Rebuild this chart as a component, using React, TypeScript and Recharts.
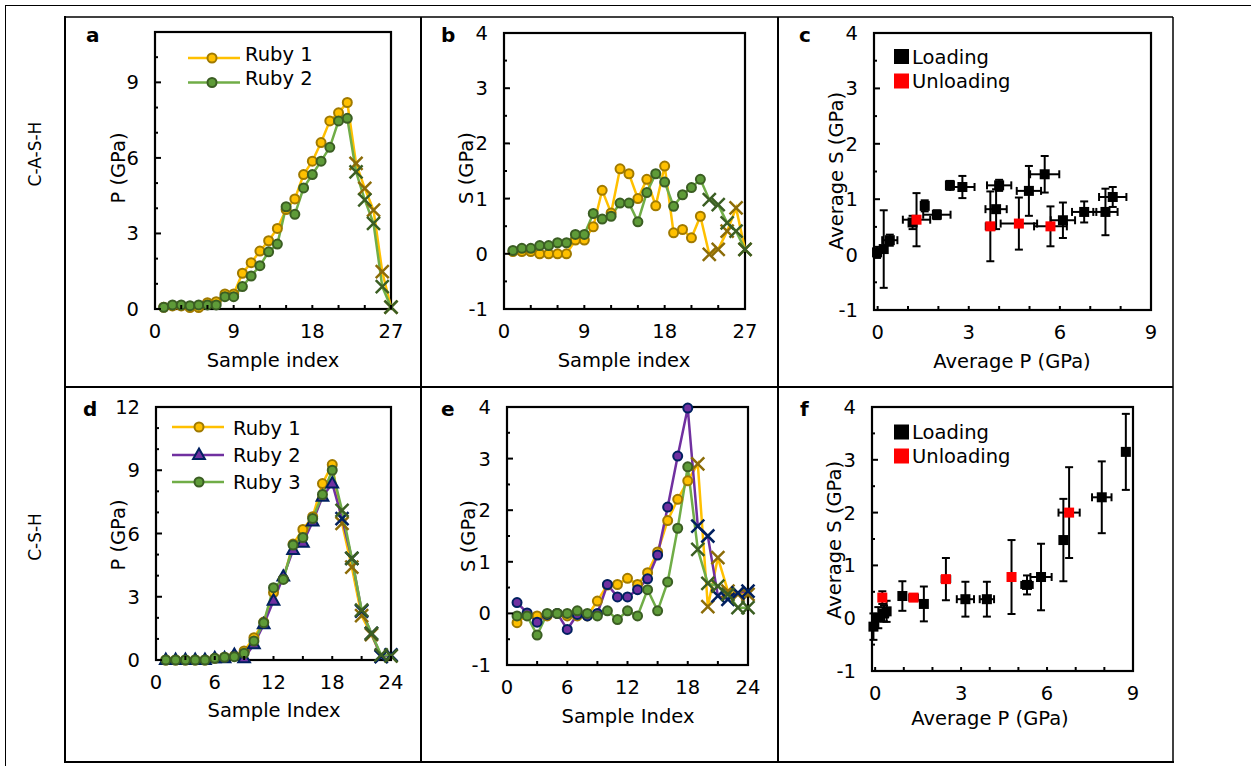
import { LineChart, Line, ScatterChart, Scatter, XAxis, YAxis, ErrorBar } from 'recharts';

const FONT = '"DejaVu Sans", Verdana, sans-serif';

// C-A-S-H, panels a and b (27 samples, unloading from sample 23)
const casSample = [1, 2, 3, 4, 5, 6, 7, 8, 9, 10, 11, 12, 13, 14, 15, 16, 17, 18, 19, 20, 21, 22, 23, 24, 25, 26, 27];
const casUnloadFrom = 23;
const casPRuby1 = [0.07, 0.12, 0.12, 0.06, 0.06, 0.25, 0.29, 0.6, 0.6, 1.42, 1.84, 2.3, 2.71, 3.2, 3.95, 4.37, 5.34, 5.87, 6.61, 7.47, 7.79, 8.2, 5.78, 4.79, 3.93, 1.48, 0.07];
const casPRuby2 = [0.07, 0.16, 0.16, 0.13, 0.16, 0.16, 0.16, 0.49, 0.49, 0.89, 1.31, 1.72, 2.27, 2.58, 4.06, 3.76, 4.81, 5.34, 5.87, 6.42, 7.47, 7.57, 5.45, 4.33, 3.4, 0.89, 0.07];
const casSRuby1 = [0.04, 0.04, 0.04, 0, 0, 0, 0, 0.25, 0.25, 0.49, 1.15, 0.74, 1.54, 1.45, 1.0, 1.35, 0.87, 1.59, 0.38, 0.44, 0.29, 0.68, -0.01, 0.08, 0.41, 0.83, 0.08];
const casSRuby2 = [0.06, 0.1, 0.1, 0.15, 0.15, 0.2, 0.2, 0.35, 0.35, 0.73, 0.63, 0.68, 0.92, 0.92, 0.58, 1.11, 1.45, 1.3, 0.86, 1.07, 1.2, 1.35, 0.98, 0.89, 0.56, 0.41, 0.08];

// C-S-H, panels d and e (24 samples, unloading from sample 19)
const cshSample = [1, 2, 3, 4, 5, 6, 7, 8, 9, 10, 11, 12, 13, 14, 15, 16, 17, 18, 19, 20, 21, 22, 23, 24];
const cshUnloadFrom = 19;
const cshPRuby1 = [0, 0, 0, 0, 0, 0.08, 0.13, 0.2, 0.43, 1.06, 1.8, 3.2, 3.85, 5.5, 6.19, 6.8, 8.37, 9.27, 6.48, 4.4, 2.1, 1.2, 0.18, 0.2];
const cshPRuby2 = [0, 0, 0, 0, 0, 0.08, 0.08, 0.24, 0.08, 0.74, 1.69, 2.81, 3.95, 5.21, 5.56, 6.56, 7.74, 8.37, 6.71, 4.82, 2.32, 1.26, 0.16, 0.24];
const cshPRuby3 = [0, 0, 0, 0, 0, 0.08, 0.13, 0.16, 0.32, 0.9, 1.77, 3.43, 3.82, 5.45, 5.81, 6.71, 7.85, 9.0, 7.1, 4.82, 2.37, 1.26, 0.24, 0.2];
const cshSRuby1 = [-0.18, -0.02, -0.05, -0.05, 0, -0.05, -0.05, -0.05, 0.24, 0.55, 0.56, 0.68, 0.56, 0.79, 1.19, 1.8, 2.21, 2.57, 2.9, 0.13, 1.08, 0.43, 0.37, 0.37];
const cshSRuby2 = [0.21, 0.01, -0.17, -0.02, 0, -0.31, -0.02, -0.05, 0, 0.56, 0.32, 0.32, 0.46, 0.67, 1.13, 2.06, 3.05, 3.98, 1.69, 1.5, 0.34, 0.27, 0.4, 0.43];
const cshSRuby3 = [-0.05, -0.05, -0.42, 0, 0, 0, 0.05, 0, -0.05, 0.05, -0.12, 0.05, -0.05, 0.46, 0.05, 0.61, 1.65, 2.84, 1.24, 0.58, 0.53, 0.37, 0.11, 0.11];

// panel c: average P / S with errors
const casLoadP = [-0.02, 0.2, 0.4, 1.15, 1.55, 1.95, 2.38, 2.79, 3.9, 4.0, 4.98, 5.5, 6.1, 6.8, 7.5, 7.74];
const casLoadS = [0.04, 0.1, 0.26, 0.58, 0.88, 0.72, 1.25, 1.22, 0.82, 1.25, 1.15, 1.45, 0.62, 0.77, 0.77, 1.04];
const casLoadPErr = [0.1, 0.1, 0.25, 0.1, 0.1, 0.45, 0.1, 0.4, 0.35, 0.4, 0.4, 0.48, 0.4, 0.4, 0.4, 0.45];
const casLoadSErr = [0.1, 0.7, 0.1, 0.12, 0.1, 0.08, 0.08, 0.2, 0.36, 0.1, 0.45, 0.33, 0.32, 0.19, 0.42, 0.18];
const casUnloadP = [1.28, 3.71, 4.65, 5.69];
const casUnloadS = [0.63, 0.51, 0.56, 0.51];
const casUnloadPErr = [0.45, 0.15, 0.6, 0.54];
const casUnloadSErr = [0.48, 0.63, 0.47, 0.36];

// panel f
const cshLoadP = [-0.06, 0.11, 0.31, 0.4, 0.95, 1.7, 3.15, 3.9, 5.3, 5.79, 6.57, 7.91, 8.75];
const cshLoadS = [-0.16, 0.01, 0.09, 0.13, 0.42, 0.27, 0.36, 0.36, 0.63, 0.78, 1.48, 2.29, 3.15];
const cshLoadPErr = [0.05, 0.1, 0.15, 0.1, 0.1, 0.1, 0.3, 0.25, 0.2, 0.37, 0.1, 0.34, 0.1];
const cshLoadSErr = [0.25, 0.2, 0.15, 0.2, 0.28, 0.33, 0.33, 0.33, 0.18, 0.63, 0.78, 0.68, 0.72];
const cshUnloadP = [0.25, 1.34, 2.47, 4.76, 6.77];
const cshUnloadS = [0.39, 0.39, 0.74, 0.78, 2.0];
const cshUnloadPErr = [0.1, 0.15, 0.15, 0.1, 0.37];
const cshUnloadSErr = [0.12, 0.05, 0.4, 0.7, 0.86];

// ticks and labels
const ticks27 = [0, 3, 6, 9, 12, 15, 18, 21, 24, 27];
const labels27 = [0, 9, 18, 27];
const ticks24 = [0, 3, 6, 9, 12, 15, 18, 21, 24];
const labels24 = [0, 6, 12, 18, 24];
const ticks9 = [0, 1, 2, 3, 4, 5, 6, 7, 8, 9];
const labels9 = [0, 3, 6, 9];
const ticksP11 = [0, 1, 2, 3, 4, 5, 6, 7, 8, 9, 10, 11];
const labelsP11 = [0, 3, 6, 9];
const ticksP12 = [0, 1, 2, 3, 4, 5, 6, 7, 8, 9, 10, 11, 12];
const labelsP12 = [0, 3, 6, 9, 12];
const ticksS = [-1, -0.5, 0, 0.5, 1, 1.5, 2, 2.5, 3, 3.5, 4];
const labelsS = [-1, 0, 1, 2, 3, 4];

const ORANGE = '#FFC000';
const ORANGE_EDGE = '#A07A00';
const ORANGE_X = '#8C6C08';
const GREEN = '#70AD47';
const GREEN_FILL = '#5E9B38';
const GREEN_EDGE = '#3B5E23';
const PURPLE = '#7030A0';
const NAVY = '#002060';

const casRows = casSample.map((sample, i) => ({
  sample, p1: casPRuby1[i], p2: casPRuby2[i], s1: casSRuby1[i], s2: casSRuby2[i],
}));
const cshRows = cshSample.map((sample, i) => ({
  sample, p1: cshPRuby1[i], p2: cshPRuby2[i], p3: cshPRuby3[i],
  s1: cshSRuby1[i], s2: cshSRuby2[i], s3: cshSRuby3[i],
}));
const errRows = (p: number[], s: number[], pe: number[], se: number[]) =>
  p.map((x, i) => ({ x, y: s[i], ex: pe[i], ey: se[i] }));

const xTick = (labels: number[]) => (props: any) => {
  const { x, y, payload } = props;
  const v = payload.value;
  return (
    <g>
      <line x1={x} y1={y} x2={x} y2={y - 4} stroke="#000" strokeWidth={2} />
      {labels.includes(v) && (
        <text x={x} y={y + 29} textAnchor="middle" fontSize={19.5} fontFamily={FONT} fill="#000">{v}</text>
      )}
    </g>
  );
};

const yTick = (labels: number[]) => (props: any) => {
  const { x, y, payload } = props;
  const v = payload.value;
  const major = labels.includes(v);
  return (
    <g>
      <line x1={x} y1={y} x2={x + (major ? 6 : 3)} y2={y} stroke="#000" strokeWidth={2} />
      {major && (
        <text x={x - 16} y={y + 7} textAnchor="end" fontSize={19.5} fontFamily={FONT} fill="#000">{v}</text>
      )}
    </g>
  );
};

const rubyDot = (shape: string, fill: string, edge: string, xColor: string, unloadFrom: number) => (props: any) => {
  const { cx, cy, payload, index } = props;
  const key = `dot-${index}`;
  if (cx == null || cy == null) return <g key={key} />;
  if (payload.sample >= unloadFrom) {
    const s = 6.5;
    return (
      <path key={key} d={`M${cx - s},${cy - s}L${cx + s},${cy + s}M${cx - s},${cy + s}L${cx + s},${cy - s}`}
        stroke={xColor} strokeWidth={2.5} fill="none" />
    );
  }
  if (shape === 'triangle') {
    const r = 6.5;
    return (
      <polygon key={key} points={`${cx},${cy - r} ${cx + r * 0.9},${cy + r * 0.6} ${cx - r * 0.9},${cy + r * 0.6}`}
        fill={fill} stroke={edge} strokeWidth={2} />
    );
  }
  return <circle key={key} cx={cx} cy={cy} r={4.5} fill={fill} stroke={edge} strokeWidth={2} />;
};

const square = (color: string) => (props: any) => (
  <rect x={props.cx - 5} y={props.cy - 5} width={10} height={10} fill={color} />
);

type Box = [number, number, number, number];

const boxA: Box = [155, 32, 391, 309];
const boxB: Box = [504, 33, 745, 309];
const boxC: Box = [874, 33, 1151, 310];
const boxD: Box = [156, 407, 391, 660];
const boxE: Box = [507, 407, 748, 665];
const boxF: Box = [872, 407, 1133, 671];

const place = (b: Box) => ({
  style: { position: 'absolute' as const, left: b[0] - 60, top: b[1] - 20 },
  width: b[2] - b[0] + 80,
  height: b[3] - b[1] + 80,
});
const margin = { top: 20, right: 20, left: 0, bottom: 0 };

const axes = (xTicks: number[], xLabels: number[], xDom: [number, number], yTicks: number[], yLabels: number[], yDom: [number, number], xKey: string, yKey?: string) => [
  <XAxis key="x" type="number" dataKey={xKey} domain={() => xDom} ticks={xTicks} interval={0}
    axisLine={false} tickLine={false} tickSize={0} tickMargin={0} height={60} tick={xTick(xLabels)} />,
  <YAxis key="y" type="number" dataKey={yKey} domain={() => yDom} ticks={yTicks} interval={0}
    axisLine={false} tickLine={false} tickSize={0} tickMargin={0} width={60} tick={yTick(yLabels)} />,
];

const rubyLine = (key: string, color: string, shape: string, fill: string, edge: string, xColor: string, unloadFrom: number) => (
  <Line key={key} type="linear" dataKey={key} stroke={color} strokeWidth={2.5}
    dot={rubyDot(shape, fill, edge, xColor, unloadFrom)} activeDot={false} isAnimationActive={false} />
);

const errScatter = (name: string, data: any[], color: string) => (
  <Scatter key={name} name={name} data={data} shape={square(color)} isAnimationActive={false}>
    <ErrorBar dataKey="ex" direction="x" width={4} stroke="#000" strokeWidth={2} />
    <ErrorBar dataKey="ey" direction="y" width={4} stroke="#000" strokeWidth={2} />
  </Scatter>
);

const T = (p: any) => <text fontFamily={FONT} fontSize={19.5} fill="#000" {...p} />;
const VT = ({ x, y, children, size = 19.5 }: any) => (
  <text x={x} y={y} transform={`rotate(-90 ${x} ${y})`} textAnchor="middle" dominantBaseline="central"
    fontFamily={FONT} fontSize={size} fill="#000">{children}</text>
);

const Background = () => (
  <svg width={1251} height={766} style={{ position: 'absolute', left: 0, top: 0 }}>
    <rect x={5.5} y={5.5} width={1300} height={800} fill="none" stroke="#000" strokeWidth={1} />
    <line x1={65} y1={17} x2={1173} y2={17} stroke="#000" strokeWidth={1.5} />
    <line x1={1173} y1={17} x2={1173} y2={762} stroke="#000" strokeWidth={1.5} />
    <line x1={65} y1={16} x2={65} y2={763} stroke="#000" strokeWidth={2} />
    <line x1={421} y1={17} x2={421} y2={763} stroke="#000" strokeWidth={2} />
    <line x1={778} y1={17} x2={778} y2={763} stroke="#000" strokeWidth={2} />
    <line x1={65} y1={387} x2={1173} y2={387} stroke="#000" strokeWidth={2} />
    <line x1={65} y1={762} x2={1174} y2={762} stroke="#000" strokeWidth={2} />
    {[boxA, boxB, boxC, boxD, boxE, boxF].map((b, i) => (
      <rect key={i} x={b[0]} y={b[1]} width={b[2] - b[0]} height={b[3] - b[1]} fill="none" stroke="#000" strokeWidth={2.2} />
    ))}

    <VT x={35} y={154} size={17}>C-A-S-H</VT>
    <VT x={35} y={537} size={17}>C-S-H</VT>

    <T x={86} y={42} fontWeight="bold" fontSize={20}>a</T>
    <T x={441} y={42} fontWeight="bold" fontSize={20}>b</T>
    <T x={799} y={42} fontWeight="bold" fontSize={20}>c</T>
    <T x={83} y={416} fontWeight="bold" fontSize={20}>d</T>
    <T x={441} y={416} fontWeight="bold" fontSize={20}>e</T>
    <T x={800} y={416} fontWeight="bold" fontSize={20}>f</T>

    <VT x={118} y={168}>P (GPa)</VT>
    <VT x={466} y={168}>S (GPa)</VT>
    <VT x={836} y={171}>Average S (GPa)</VT>
    <VT x={118} y={535}>P (GPa)</VT>
    <VT x={468} y={536}>S (GPa)</VT>
    <VT x={834} y={540}>Average S (GPa)</VT>

    <T x={273} y={367} textAnchor="middle">Sample index</T>
    <T x={624} y={367} textAnchor="middle">Sample index</T>
    <T x={1012} y={368} textAnchor="middle">Average P (GPa)</T>
    <T x={274} y={717} textAnchor="middle">Sample Index</T>
    <T x={628} y={723} textAnchor="middle">Sample Index</T>
    <T x={990} y={725} textAnchor="middle">Average P (GPa)</T>

    {/* legend a */}
    <line x1={188} y1={58} x2={240} y2={58} stroke={ORANGE} strokeWidth={2.5} />
    <circle cx={212} cy={58} r={4.5} fill={ORANGE} stroke={ORANGE_EDGE} strokeWidth={2} />
    <T x={245} y={61}>Ruby 1</T>
    <line x1={188} y1={82.5} x2={240} y2={82.5} stroke={GREEN} strokeWidth={2.5} />
    <circle cx={212} cy={82.5} r={4.5} fill={GREEN_FILL} stroke={GREEN_EDGE} strokeWidth={2} />
    <T x={245} y={85}>Ruby 2</T>

    {/* legend d */}
    <line x1={172} y1={427} x2={224} y2={427} stroke={ORANGE} strokeWidth={2.5} />
    <circle cx={199} cy={427} r={4.5} fill={ORANGE} stroke={ORANGE_EDGE} strokeWidth={2} />
    <T x={233} y={434.5}>Ruby 1</T>
    <line x1={172} y1={455} x2={224} y2={455} stroke={PURPLE} strokeWidth={2.5} />
    <polygon points="199,448.5 204.9,458.9 193.1,458.9" fill={PURPLE} stroke={NAVY} strokeWidth={2} />
    <T x={233} y={462}>Ruby 2</T>
    <line x1={172} y1={482} x2={224} y2={482} stroke={GREEN} strokeWidth={2.5} />
    <circle cx={199} cy={482} r={4.5} fill={GREEN_FILL} stroke={GREEN_EDGE} strokeWidth={2} />
    <T x={233} y={489}>Ruby 3</T>

    {/* legend c */}
    <rect x={894} y={49} width={15} height={15} fill="#000" />
    <T x={912} y={63.5}>Loading</T>
    <rect x={894} y={73.5} width={15} height={15} fill="#FF0000" />
    <T x={912} y={87.5}>Unloading</T>

    {/* legend f */}
    <rect x={894} y={424.5} width={15} height={15} fill="#000" />
    <T x={912} y={438.5}>Loading</T>
    <rect x={894} y={448.5} width={15} height={15} fill="#FF0000" />
    <T x={912} y={462.5}>Unloading</T>
  </svg>
);

export default function App() {
  const pa = place(boxA), pb = place(boxB), pc = place(boxC);
  const pd = place(boxD), pe = place(boxE), pf = place(boxF);
  return (
    <div style={{ position: 'absolute', left: 0, top: 0, width: 1251, height: 766, background: '#fff', overflow: 'hidden' }}>
      <Background />

      <div style={pa.style}>
        <LineChart width={pa.width} height={pa.height} data={casRows} margin={margin}>
          {axes(ticks27, labels27, [0, 27], ticksP11, labelsP11, [0, 11], 'sample')}
          {rubyLine('p1', ORANGE, 'circle', ORANGE, ORANGE_EDGE, ORANGE_X, casUnloadFrom)}
          {rubyLine('p2', GREEN, 'circle', GREEN_FILL, GREEN_EDGE, GREEN_EDGE, casUnloadFrom)}
        </LineChart>
      </div>

      <div style={pb.style}>
        <LineChart width={pb.width} height={pb.height} data={casRows} margin={margin}>
          {axes(ticks27, labels27, [0, 27], ticksS, labelsS, [-1, 4], 'sample')}
          {rubyLine('s1', ORANGE, 'circle', ORANGE, ORANGE_EDGE, ORANGE_X, casUnloadFrom)}
          {rubyLine('s2', GREEN, 'circle', GREEN_FILL, GREEN_EDGE, GREEN_EDGE, casUnloadFrom)}
        </LineChart>
      </div>

      <div style={pc.style}>
        <ScatterChart width={pc.width} height={pc.height} margin={margin}>
          {axes(ticks9, labels9, [0, 9], ticksS, labelsS, [-1, 4], 'x', 'y')}
          {errScatter('Loading', errRows(casLoadP, casLoadS, casLoadPErr, casLoadSErr), '#000')}
          {errScatter('Unloading', errRows(casUnloadP, casUnloadS, casUnloadPErr, casUnloadSErr), '#FF0000')}
        </ScatterChart>
      </div>

      <div style={pd.style}>
        <LineChart width={pd.width} height={pd.height} data={cshRows} margin={margin}>
          {axes(ticks24, labels24, [0, 24], ticksP12, labelsP12, [0, 12], 'sample')}
          {rubyLine('p1', ORANGE, 'circle', ORANGE, ORANGE_EDGE, ORANGE_X, cshUnloadFrom)}
          {rubyLine('p2', PURPLE, 'triangle', PURPLE, NAVY, NAVY, cshUnloadFrom)}
          {rubyLine('p3', GREEN, 'circle', GREEN_FILL, GREEN_EDGE, GREEN_EDGE, cshUnloadFrom)}
        </LineChart>
      </div>

      <div style={pe.style}>
        <LineChart width={pe.width} height={pe.height} data={cshRows} margin={margin}>
          {axes(ticks24, labels24, [0, 24], ticksS, labelsS, [-1, 4], 'sample')}
          {rubyLine('s1', ORANGE, 'circle', ORANGE, ORANGE_EDGE, ORANGE_X, cshUnloadFrom)}
          {rubyLine('s2', PURPLE, 'circle', PURPLE, NAVY, NAVY, cshUnloadFrom)}
          {rubyLine('s3', GREEN, 'circle', GREEN_FILL, GREEN_EDGE, GREEN_EDGE, cshUnloadFrom)}
        </LineChart>
      </div>

      <div style={pf.style}>
        <ScatterChart width={pf.width} height={pf.height} margin={margin}>
          {axes(ticks9, labels9, [0, 9], ticksS, labelsS, [-1, 4], 'x', 'y')}
          {errScatter('Loading', errRows(cshLoadP, cshLoadS, cshLoadPErr, cshLoadSErr), '#000')}
          {errScatter('Unloading', errRows(cshUnloadP, cshUnloadS, cshUnloadPErr, cshUnloadSErr), '#FF0000')}
        </ScatterChart>
      </div>
    </div>
  );
}
